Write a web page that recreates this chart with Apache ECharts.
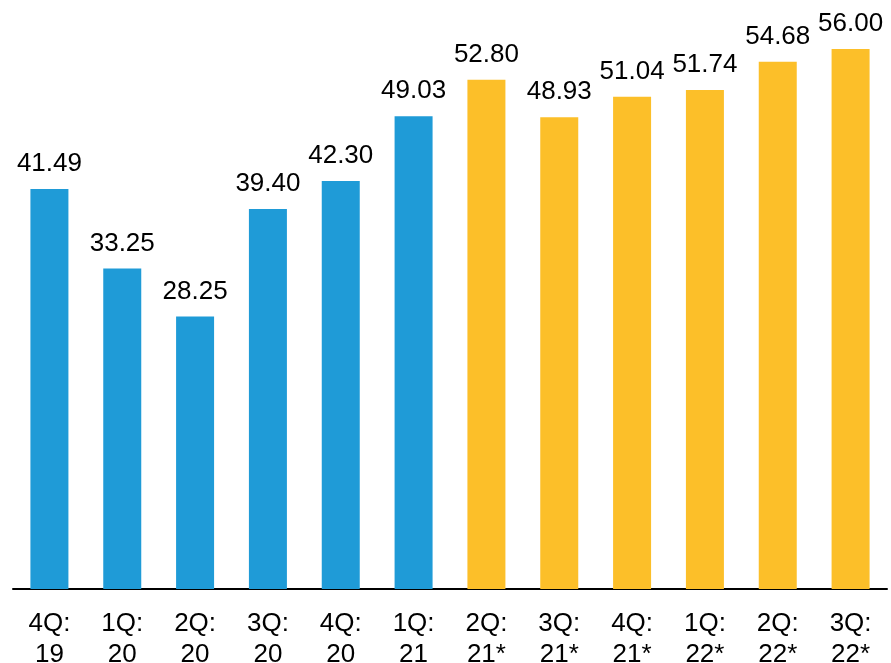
<!DOCTYPE html>
<html>
<head>
  <meta charset="utf-8">
  <title>Quarterly</title>
  <script src="https://cdn.jsdelivr.net/npm/echarts@6/dist/echarts.min.js"></script>
</head>
<body style="margin:0">
  <div id="container" style="height: 663px; width: 891px"></div>
  <script>
    var quarters = ['4Q:\n19', '1Q:\n20', '2Q:\n20', '3Q:\n20', '4Q:\n20', '1Q:\n21',
                    '2Q:\n21*', '3Q:\n21*', '4Q:\n21*', '1Q:\n22*', '2Q:\n22*', '3Q:\n22*'];
    var values = [41.49, 33.25, 28.25, 39.40, 42.30, 49.03, 52.80, 48.93, 51.04, 51.74, 54.68, 56.00];
    var forecast = [false, false, false, false, false, false, true, true, true, true, true, true];

    var blue = '#1f9bd7';
    var yellow = '#fcbf29';

    var dom = document.getElementById('container');
    var myChart = echarts.init(dom);

    var data = values.map(function (v, i) {
      return { value: v, itemStyle: { color: forecast[i] ? yellow : blue } };
    });

    var option = {
      animation: false,
      grid: { left: 13, right: 4, top: 49, bottom: 74, outerBoundsMode: 'none' },
      xAxis: {
        type: 'category',
        data: quarters,
        axisLine: { lineStyle: { color: '#000', width: 2 } },
        axisTick: { show: false },
        axisLabel: {
          color: '#000',
          fontFamily: 'Liberation Sans, Arial',
          fontSize: 26,
          lineHeight: 31,
          margin: 19,
          interval: 0
        }
      },
      yAxis: {
        type: 'value',
        min: 0,
        max: 56,
        show: false,
        splitLine: { show: false }
      },
      series: [{
        type: 'bar',
        barWidth: 38,
        data: data,
        label: {
          show: true,
          position: 'top',
          distance: 12,
          color: '#000',
          fontFamily: 'Liberation Sans, Arial',
          fontSize: 26,
          formatter: function (p) { return p.value.toFixed(2); }
        }
      }]
    };
    myChart.setOption(option);
  </script>
</body>
</html>
